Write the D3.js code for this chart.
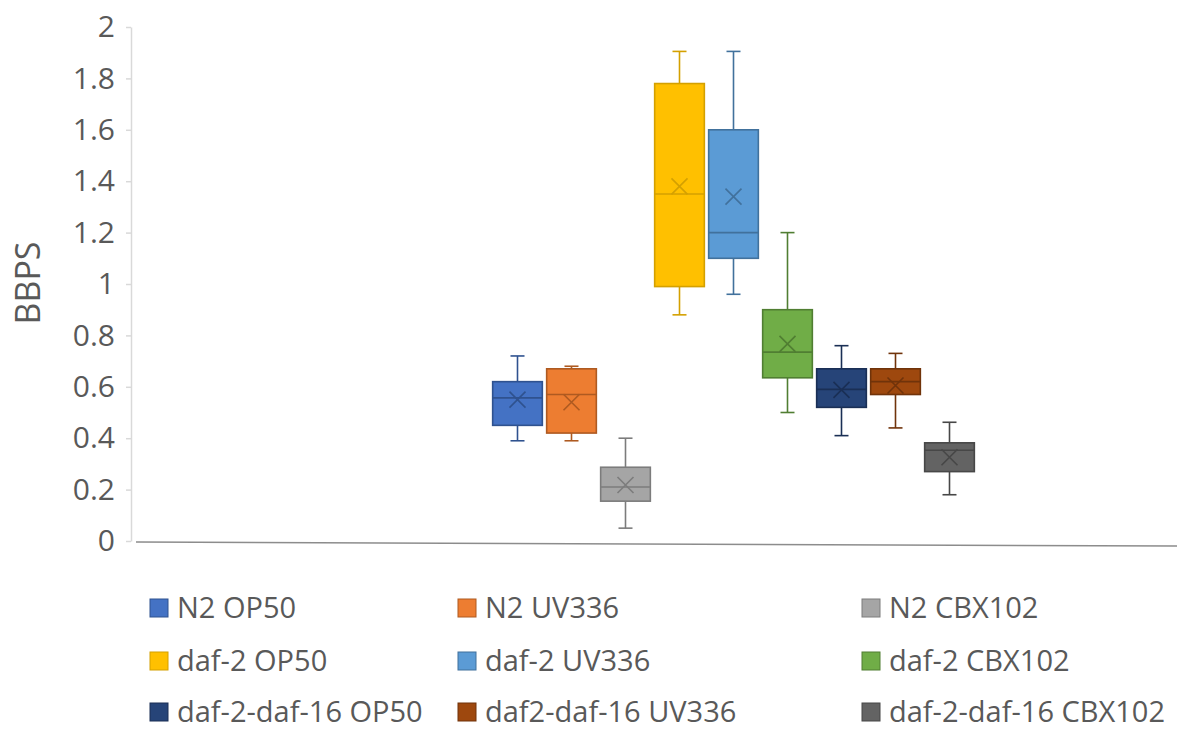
<!DOCTYPE html>
<html>
<head>
<meta charset="utf-8">
<script src="https://cdn.jsdelivr.net/npm/d3@7"></script>
<style>
  html, body { margin: 0; padding: 0; background: #fff; }
  svg { display: block; font-family: "Open Sans", sans-serif; }
</style>
</head>
<body>
<div id="chart"></div>
<script>
// BBPS box plots, nine strain/bacteria groups, Excel-style

const series = [
  "N2 OP50", "N2 UV336", "N2 CBX102",
  "daf-2 OP50", "daf-2 UV336", "daf-2 CBX102",
  "daf-2-daf-16 OP50", "daf2-daf-16 UV336", "daf-2-daf-16 CBX102"
];
const fills   = ["#4472C4", "#ED7D31", "#A5A5A5", "#FFC000", "#5B9BD5", "#70AD47", "#264478", "#9E480E", "#636363"];
const strokes = ["#2F528F", "#AE5A21", "#7C7C7C", "#D4A000", "#41719C", "#507E32", "#1A2F55", "#70330A", "#474747"];

const mins    = [0.39, 0.39, 0.05, 0.88, 0.96, 0.50, 0.41, 0.44, 0.18];
const q1s     = [0.45, 0.42, 0.155, 0.99, 1.10, 0.635, 0.52, 0.57, 0.27];
const medians = [0.557, 0.57, 0.21, 1.35, 1.20, 0.735, 0.59, 0.62, 0.353];
const q3s     = [0.62, 0.67, 0.287, 1.78, 1.60, 0.90, 0.67, 0.67, 0.382];
const maxs    = [0.72, 0.68, 0.40, 1.905, 1.905, 1.20, 0.76, 0.73, 0.462];
const means   = [0.55, 0.54, 0.218, 1.38, 1.34, 0.767, 0.588, 0.605, 0.326];

const yTicks = [0, 0.2, 0.4, 0.6, 0.8, 1, 1.2, 1.4, 1.6, 1.8, 2];

const W = 1196, H = 731;
const plot = { left: 136, right: 1177, top: 27, bottom: 541 };

const svg = d3.select("#chart").append("svg").attr("width", W).attr("height", H);

const y = d3.scaleLinear().domain([0, 2]).range([plot.bottom, plot.top]);
const x = d3.scaleBand().domain(series).range([490.5, 976.5]).paddingInner(0.08).paddingOuter(0.04);

// y axis
const gY = svg.append("g").attr("transform", "translate(131,0)")
  .call(d3.axisLeft(y).tickValues(yTicks).tickFormat(d => d).tickSize(5).tickSizeOuter(0).tickPadding(11));
gY.select(".domain").attr("stroke", "#D9D9D9").attr("stroke-width", 1.5);
gY.selectAll(".tick line").attr("stroke", "#D9D9D9").attr("stroke-width", 1.5);
gY.selectAll(".tick text").attr("fill", "#595959").attr("font-size", 30).attr("font-family", "Open Sans, sans-serif");

svg.append("text")
  .attr("transform", `translate(40,283) rotate(-90)`)
  .attr("text-anchor", "middle").attr("fill", "#595959").attr("font-size", 34)
  .text("BBPS");

// baseline (slightly tilted, as in the source)
svg.append("line")
  .attr("x1", plot.left).attr("x2", plot.right)
  .attr("y1", y(0) + 1).attr("y2", y(0) + 5)
  .attr("stroke", "#8C8C8C").attr("stroke-width", 1.5);

// boxes
const idx = d3.range(series.length);
const g = svg.append("g");
const bw = x.bandwidth(), cap = 14, mk = 8;

const box = g.selectAll("g.box").data(idx).join("g").attr("class", "box");

box.append("line") // upper whisker
  .attr("x1", i => x(series[i]) + bw / 2).attr("x2", i => x(series[i]) + bw / 2)
  .attr("y1", i => y(maxs[i])).attr("y2", i => y(q3s[i]))
  .attr("stroke", i => strokes[i]).attr("stroke-width", 1.6);
box.append("line") // lower whisker
  .attr("x1", i => x(series[i]) + bw / 2).attr("x2", i => x(series[i]) + bw / 2)
  .attr("y1", i => y(q1s[i])).attr("y2", i => y(mins[i]))
  .attr("stroke", i => strokes[i]).attr("stroke-width", 1.6);
box.append("line") // top cap
  .attr("x1", i => x(series[i]) + bw / 2 - cap / 2).attr("x2", i => x(series[i]) + bw / 2 + cap / 2)
  .attr("y1", i => y(maxs[i])).attr("y2", i => y(maxs[i]))
  .attr("stroke", i => strokes[i]).attr("stroke-width", 1.6);
box.append("line") // bottom cap
  .attr("x1", i => x(series[i]) + bw / 2 - cap / 2).attr("x2", i => x(series[i]) + bw / 2 + cap / 2)
  .attr("y1", i => y(mins[i])).attr("y2", i => y(mins[i]))
  .attr("stroke", i => strokes[i]).attr("stroke-width", 1.6);

box.append("rect")
  .attr("x", i => x(series[i])).attr("width", bw)
  .attr("y", i => y(q3s[i])).attr("height", i => y(q1s[i]) - y(q3s[i]))
  .attr("fill", i => fills[i]).attr("stroke", i => strokes[i]).attr("stroke-width", 1.6);

box.append("line") // median
  .attr("x1", i => x(series[i])).attr("x2", i => x(series[i]) + bw)
  .attr("y1", i => y(medians[i])).attr("y2", i => y(medians[i]))
  .attr("stroke", i => strokes[i]).attr("stroke-width", 1.6);

box.append("path") // mean marker
  .attr("d", i => {
    const cx = x(series[i]) + bw / 2, cy = y(means[i]);
    return `M${cx - mk},${cy - mk}L${cx + mk},${cy + mk}M${cx - mk},${cy + mk}L${cx + mk},${cy - mk}`;
  })
  .attr("fill", "none").attr("stroke", i => strokes[i]).attr("stroke-width", 1.6);

// legend: 3 columns x 3 rows
const colX = [150, 458, 862];
const rowY = [608, 661, 712];
const leg = svg.append("g").selectAll("g").data(idx).join("g")
  .attr("transform", i => `translate(${colX[i % 3]},${rowY[Math.floor(i / 3)]})`);
leg.append("rect")
  .attr("x", 0).attr("y", -9).attr("width", 18).attr("height", 18)
  .attr("fill", i => fills[i]).attr("stroke", i => strokes[i]).attr("stroke-width", 1);
leg.append("text")
  .attr("x", 27).attr("y", 0).attr("dy", "0.36em")
  .attr("fill", "#595959").attr("font-size", 29)
  .text(i => series[i]);
</script>
</body>
</html>
